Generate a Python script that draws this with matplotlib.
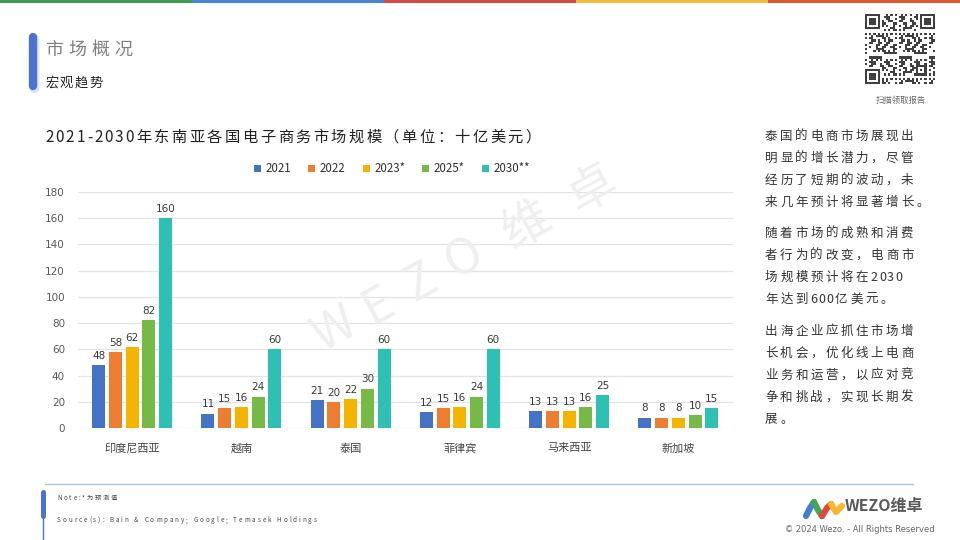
import numpy as np
import matplotlib
matplotlib.use("Agg")
import matplotlib.pyplot as plt
from matplotlib.lines import Line2D
from matplotlib.patches import Rectangle

plt.rcParams['font.family'] = ['Noto Sans CJK SC', 'DejaVu Sans']

# ---------------- data ----------------
categories = ['印度尼西亚', '越南', '泰国', '菲律宾', '马来西亚', '新加坡']
series_names = ['2021', '2022', '2023*', '2025*', '2030**']
v2021 = [48, 11, 21, 12, 13, 8]
v2022 = [58, 15, 20, 15, 13, 8]
v2023 = [62, 16, 22, 16, 13, 8]
v2025 = [82, 24, 30, 24, 16, 10]
v2030 = [160, 60, 60, 60, 25, 15]
yticks = [0, 20, 40, 60, 80, 100, 120, 140, 160, 180]

colors = ['#4472c4', '#ed7d31', '#f4b400', '#76b947', '#2ec0b2']

title = '2021-2030年东南亚各国电子商务市场规模（单位：十亿美元）'
para1 = ['泰国的电商市场展现出', '明显的增长潜力，尽管', '经历了短期的波动，未', '来几年预计将显著增长。']
para2 = ['随着市场的成熟和消费', '者行为的改变，电商市', '场规模预计将在2030', '年达到600亿美元。']
para3 = ['出海企业应抓住市场增', '长机会，优化线上电商', '业务和运营，以应对竞', '争和挑战，实现长期发', '展。']

W, H = 960, 540
fig = plt.figure(figsize=(9.6, 5.4), dpi=100)
fig.patch.set_facecolor('white')
renderer = fig.canvas.get_renderer()


def fx(x):
    return x / W


def fy(y):
    return 1 - y / H


def tracked(x, yc, s, size, track, color, weight='normal', zorder=3, atrack=None):
    if atrack is None:
        atrack = track
    fpx = size * 100 / 72
    yb = yc + 0.37 * fpx
    for ch in s:
        tr = atrack if ord(ch) < 128 else track
        if ch == ' ':
            x += 0.3 * fpx + tr
            continue
        t = fig.text(fx(x), fy(yb), ch, fontsize=size, color=color, va='baseline',
                     ha='left', fontweight=weight, zorder=zorder)
        w = t.get_window_extent(renderer).width
        x += w + tr


# top colour strip
strip_cols = ['#3d9b52', '#4a86cf', '#d64a3f', '#f2bb3a', '#dd5a35']
for i, c in enumerate(strip_cols):
    fig.patches.append(Rectangle((i / 5, fy(3)), 1 / 5, 3 / H, transform=fig.transFigure,
                                 facecolor=c, edgecolor='none', zorder=5))

# header bar + titles
fig.add_artist(Line2D([fx(34), fx(34)], [fy(39), fy(88)], lw=6.8, color='#dbe3f3',
                      solid_capstyle='round', transform=fig.transFigure, zorder=2))
fig.add_artist(Line2D([fx(33), fx(33)], [fy(37), fy(86)], lw=6.0, color='#4a74d0',
                      solid_capstyle='round', transform=fig.transFigure, zorder=3))
tracked(45, 48, '市场概况', 13, 5.0, '#808080')
tracked(45, 82, '宏观趋势', 9.5, 1.5, '#222222')

# watermark
ang = 29
wm = [('W', 335, 330), ('E', 378, 306), ('Z', 421, 283), ('O', 464, 259),
      ('维', 527, 226), ('卓', 592, 190)]
for ch, x, y in wm:
    fig.text(fx(x), fy(y), ch, fontsize=35, color='#efefef', rotation=ang,
             ha='center', va='center', rotation_mode='anchor', zorder=0)

# ---------------- chart ----------------
ax = fig.add_axes([fx(77.5), fy(428), (733 - 77.5) / W, (428 - 192) / H])
ax.patch.set_alpha(0)
x = np.arange(len(categories))
series = [v2021, v2022, v2023, v2025, v2030]
step = 0.153
bw = 0.12
for i, (vals, name, c) in enumerate(zip(series, series_names, colors)):
    bars = ax.bar(x + (i - 2) * step, vals, width=bw, color=c, label=name, zorder=3)
    ax.bar_label(bars, padding=3, fontsize=7.5, color='#3a3a3a', family='DejaVu Sans')

ax.set_xlim(-0.5, len(categories) - 0.5)
ax.set_ylim(0, 180)
ax.set_yticks(yticks)
ax.set_yticklabels([str(t) for t in yticks], fontsize=7.5, color='#595959', family='DejaVu Sans')
ax.set_xticks(x)
ax.set_xticklabels(categories, fontsize=8, color='#444444')
ax.tick_params(axis='y', length=0, pad=9)
ax.tick_params(axis='x', length=0, pad=11)
ax.grid(axis='y', color='#e3e3e3', lw=0.9, zorder=0)
for sp in ax.spines.values():
    sp.set_visible(False)

leg = ax.legend(loc='center', bbox_to_anchor=(fx(392), fy(169)), bbox_transform=fig.transFigure,
                ncol=5, frameon=False, fontsize=8.3, handlelength=0.6, handleheight=0.6,
                handletextpad=0.4, columnspacing=1.5, labelcolor='#333333')

# chart title
tracked(45, 136, title, 11, 2.45, '#222222', atrack=2.0)

# right commentary
def para(lines, y0):
    for k, ln in enumerate(lines):
        tracked(765, y0 + k * 22, ln, 9, 2.6, '#333333', atrack=1.2)

para(para1, 135)
para(para2, 232)
para(para3, 330)

# ---------------- footer ----------------
fig.add_artist(Line2D([fx(45), fx(913)], [fy(484), fy(484)], lw=1.0, color='#a9c0e8',
                      transform=fig.transFigure))
fig.add_artist(Line2D([fx(43), fx(43)], [fy(500), fy(540)], lw=1.0, color='#4a74d0',
                      transform=fig.transFigure))
fig.add_artist(Line2D([fx(43), fx(43)], [fy(492), fy(516)], lw=3.6, color='#4a74d0',
                      solid_capstyle='round', transform=fig.transFigure))
tracked(57, 498, 'Note:*为预测值', 4.5, 1.8, '#444444')
tracked(57, 520, 'Source(s): Bain & Company; Google; Temasek Holdings', 4.5, 1.9, '#444444')

# logo
lax = fig.add_axes([fx(803), fy(522), 42 / W, 26 / H])
lax.set_xlim(0, 42)
lax.set_ylim(0, 26)
lax.axis('off')
lax.plot([3, 7, 11], [6, 14, 20], color='#3f7fd6', lw=4.5, solid_capstyle='round')
lax.plot([11, 15, 19], [20, 12, 6], color='#44a853', lw=4.5, solid_capstyle='round')
lax.plot([19, 24, 28], [6, 14, 18], color='#e04a3c', lw=4.5, solid_capstyle='round')
lax.plot([28, 33, 39], [18, 10, 16], color='#f5b82e', lw=4.5, solid_capstyle='round')
fig.text(fx(845), fy(506), 'WEZO维卓', fontsize=11.5, fontweight='bold', color='#5a5a5a',
         va='center', ha='left')
fig.text(fx(860), fy(529), '© 2024 Wezo. - All Rights Reserved', fontsize=6, color='#666666',
         va='center', ha='center', family='DejaVu Sans')

# QR code (decorative deterministic pattern)
n = 33
I, J = np.meshgrid(np.arange(n), np.arange(n), indexing='ij')
qr = (((I * 11 + J * 17 + I * J * 3 + (I // 3) * (J // 2)) % 7) < 3).astype(float)
for (r0, c0) in [(0, 0), (0, n - 7), (n - 7, 0)]:
    qr[max(r0 - 1, 0):r0 + 8, max(c0 - 1, 0):c0 + 8] = 0
    qr[r0:r0 + 7, c0:c0 + 7] = 1
    qr[r0 + 1:r0 + 6, c0 + 1:c0 + 6] = 0
    qr[r0 + 2:r0 + 5, c0 + 2:c0 + 5] = 1
qr[24:29, 24:29] = 1
qr[25:28, 25:28] = 0
qr[26, 26] = 1
qax = fig.add_axes([fx(865), fy(84), 70 / W, 70 / H])
qax.imshow(qr, cmap='Greys', interpolation='nearest', vmin=0, vmax=1.25)
qax.axis('off')
fig.text(fx(901), fy(100), '扫描领取报告', fontsize=6, color='#666666', ha='center', va='center')

fig.savefig('out.png', dpi=100, facecolor='white')
